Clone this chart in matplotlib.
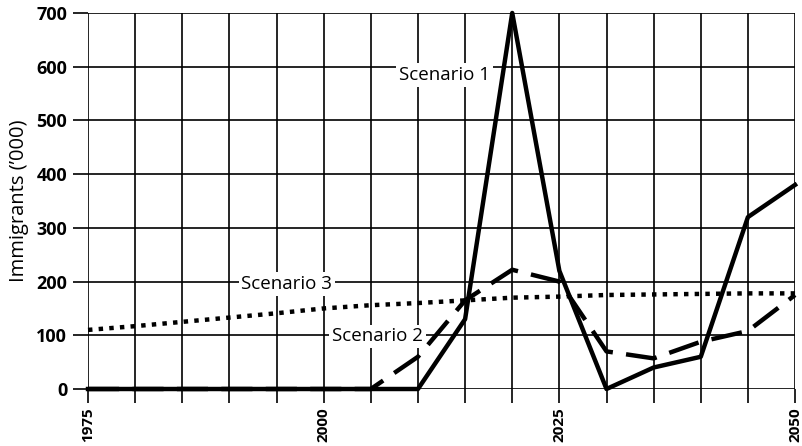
import numpy as np
import matplotlib
matplotlib.use("Agg")
import matplotlib.pyplot as plt

plt.rcParams['font.family'] = ['Open Sans', 'DejaVu Sans']

# data (values in thousands)
years = list(range(1975, 2051, 5))
scenario1 = [0, 0, 0, 0, 0, 0, 0, 0, 130, 700, 220, 0, 40, 60, 320, 380]
scenario2 = [0, 0, 0, 0, 0, 0, 0, 60, 165, 222, 200, 70, 57, 88, 108, 175]
scenario3 = [110, 117, 125, 133, 141, 150, 156, 160, 165, 170, 172, 175, 176, 177, 178, 178]
year_labels = {1975: '1975', 2000: '2000', 2025: '2025', 2050: '2050'}

fig = plt.figure(figsize=(8.03, 4.46), dpi=100)
ax = fig.add_axes([0.1096, 0.1278, 0.8805, 0.8431])

# grid
for y in range(0, 701, 100):
    ax.axhline(y, color='black', lw=1.2, zorder=1)
for x in years:
    ax.axvline(x, color='black', lw=1.2, zorder=1)

ax.plot(years, scenario3, color='black', lw=3.2, linestyle=(0, (1, 1.4)),
        clip_on=False, zorder=3)
ax.plot(years, scenario2, color='black', lw=3.2, linestyle=(0, (7, 3)),
        clip_on=False, zorder=3)
ax.plot(years, scenario1, color='black', lw=3.2, clip_on=False, zorder=4)

box = dict(facecolor='white', edgecolor='none', pad=2)
ax.text(2012.8, 585, 'Scenario 1', fontsize=13.5, ha='center', va='center', bbox=box, zorder=2)
ax.text(1996.1, 195, 'Scenario 3', fontsize=13.5, ha='center', va='center', bbox=box, zorder=2)
ax.text(2005.7, 98, 'Scenario 2', fontsize=13.5, ha='center', va='center', bbox=box, zorder=2)

ax.set_xlim(1975, 2050)
ax.set_ylim(0, 700)
ax.set_xticks(years)
ax.set_xticklabels([year_labels.get(y, '') for y in years], rotation=90,
                   fontsize=11, fontweight='bold')
ax.set_yticks(range(0, 701, 100))
ax.set_yticklabels([str(v) for v in range(0, 701, 100)], fontsize=13, fontweight='bold')
ax.tick_params(axis='x', length=10, width=1.2, pad=3)
ax.tick_params(axis='y', length=11, width=1.2, pad=4)
ax.set_ylabel("Immigrants (\u2019000)", fontsize=14.5, labelpad=5)

for s in ax.spines.values():
    s.set_visible(False)

fig.savefig('out.png', dpi=100)
